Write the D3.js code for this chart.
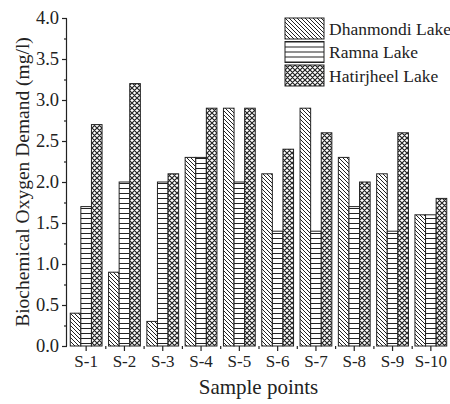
<!DOCTYPE html>
<html>
<head>
<meta charset="utf-8">
<script src="https://cdn.jsdelivr.net/npm/d3@7"></script>
<style>
  body { margin: 0; background: #fff; }
  svg { display: block; font-family: 'Liberation Serif', 'Times New Roman', serif; }
</style>
</head>
<body>
<div id="chart"></div>
<script>
// Data
var samples = ['S-1', 'S-2', 'S-3', 'S-4', 'S-5', 'S-6', 'S-7', 'S-8', 'S-9', 'S-10']
var lakes = ['Dhanmondi Lake', 'Ramna Lake', 'Hatirjheel Lake']
var dhanmondi = [0.4, 0.9, 0.3, 2.3, 2.9, 2.1, 2.9, 2.3, 2.1, 1.6]
var ramna = [1.7, 2.0, 2.0, 2.3, 2.0, 1.4, 1.4, 1.7, 1.4, 1.6]
var hatirjheel = [2.7, 3.2, 2.1, 2.9, 2.9, 2.4, 2.6, 2.0, 2.6, 1.8]
var yTicks = [0, 0.5, 1.0, 1.5, 2.0, 2.5, 3.0, 3.5, 4.0]

var seriesValues = [dhanmondi, ramna, hatirjheel]

// Set up margin/height/width
var margin = { top: 18, left: 67, right: 0, bottom: 58 }
var width = 450 - margin.left - margin.right
var height = 404 - margin.top - margin.bottom

var svg = d3
  .select('#chart')
  .append('svg')
  .attr('width', 450)
  .attr('height', 404)

// Fill patterns
var defs = svg.append('defs')

var diag = defs
  .append('pattern')
  .attr('id', 'pat-0')
  .attr('patternUnits', 'userSpaceOnUse')
  .attr('width', 4)
  .attr('height', 4)
diag.append('rect').attr('width', 4).attr('height', 4).attr('fill', '#fff')
diag
  .append('path')
  .attr('d', 'M0,0L4,4M-1,3L1,5M3,-1L5,1')
  .attr('stroke', '#222')
  .attr('stroke-width', 1)

var horiz = defs
  .append('pattern')
  .attr('id', 'pat-1')
  .attr('patternUnits', 'userSpaceOnUse')
  .attr('width', 6)
  .attr('height', 5)
horiz.append('rect').attr('width', 6).attr('height', 5).attr('fill', '#fff')
horiz
  .append('path')
  .attr('d', 'M0,0.5H6')
  .attr('stroke', '#222')
  .attr('stroke-width', 1)

var cross = defs
  .append('pattern')
  .attr('id', 'pat-2')
  .attr('patternUnits', 'userSpaceOnUse')
  .attr('width', 5)
  .attr('height', 5)
cross.append('rect').attr('width', 5).attr('height', 5).attr('fill', '#fff')
cross
  .append('path')
  .attr('d', 'M0,0L5,5M5,0L0,5M-1,4L1,6M4,-1L6,1M-1,1L1,-1M4,6L6,4')
  .attr('stroke', '#222')
  .attr('stroke-width', 1.2)

var g = svg
  .append('g')
  .attr('transform', `translate(${margin.left}, ${margin.top})`)

// Scales
var xPositionScale = d3
  .scaleBand()
  .domain(samples)
  .range([0, width])
  .paddingInner(0.17)
  .paddingOuter(0.085)

var xSubScale = d3
  .scaleBand()
  .domain([0, 1, 2])
  .range([0, xPositionScale.bandwidth()])

var yPositionScale = d3
  .scaleLinear()
  .domain([0, 4])
  .range([height, 0])

// Bars
samples.forEach(function(s, i) {
  seriesValues.forEach(function(values, k) {
    g.append('rect')
      .attr('x', xPositionScale(s) + xSubScale(k))
      .attr('y', yPositionScale(values[i]))
      .attr('width', xSubScale.bandwidth())
      .attr('height', height - yPositionScale(values[i]))
      .attr('fill', `url(#pat-${k})`)
      .attr('stroke', '#222')
      .attr('stroke-width', 1)
  })
})

// Y axis with minor ticks
var minorY = d3.range(0.25, 4, 0.5)
g.append('g')
  .attr('class', 'axis y-minor')
  .call(d3.axisLeft(yPositionScale).tickValues(minorY).tickSize(3).tickFormat(''))

var yAxis = d3
  .axisLeft(yPositionScale)
  .tickValues(yTicks)
  .tickSize(5)
  .tickFormat(d3.format('.1f'))
g.append('g')
  .attr('class', 'axis y-axis')
  .call(yAxis)

// X axis: major ticks at centres, minor at band edges
var edgeScale = d3
  .scaleLinear()
  .domain([0, samples.length])
  .range([0, width])
g.append('g')
  .attr('class', 'axis x-minor')
  .attr('transform', `translate(0, ${height})`)
  .call(
    d3
      .axisBottom(edgeScale)
      .tickValues(d3.range(1, samples.length))
      .tickSize(3)
      .tickFormat('')
  )

var xAxis = d3.axisBottom(xPositionScale).tickSize(5).tickPadding(4)
g.append('g')
  .attr('class', 'axis x-axis')
  .attr('transform', `translate(0, ${height})`)
  .call(xAxis)

svg.selectAll('.axis path, .axis line').attr('stroke', '#222').attr('stroke-width', 1.2)
svg.selectAll('.x-minor path, .y-minor path').remove()
svg.selectAll('.y-axis path').attr('d', `M-0.5,${height}V0.5`)
svg.selectAll('.x-axis path').attr('d', `M0,${height + 0.5}H${width}`)
svg
  .selectAll('.y-axis text')
  .attr('font-size', 18.5)
  .attr('font-family', 'Liberation Serif')
  .attr('fill', '#222')
svg
  .selectAll('.x-axis text')
  .attr('font-size', 17)
  .attr('font-family', 'Liberation Serif')
  .attr('fill', '#222')

// Axis titles
svg
  .append('text')
  .text('Sample points')
  .attr('x', margin.left + width / 2)
  .attr('y', 394)
  .attr('text-anchor', 'middle')
  .attr('font-size', 21)
  .attr('fill', '#222')

svg
  .append('text')
  .text('Biochemical Oxygen Demand (mg/l)')
  .attr('transform', `translate(29, ${margin.top + height / 2}) rotate(-90)`)
  .attr('text-anchor', 'middle')
  .attr('font-size', 19.5)
  .attr('fill', '#222')

// Legend
var legend = svg
  .append('g')
  .attr('transform', 'translate(285, 18)')

lakes.forEach(function(name, k) {
  var row = legend.append('g').attr('transform', `translate(0, ${k * 23.5})`)
  row
    .append('rect')
    .attr('width', 39)
    .attr('height', 21)
    .attr('fill', `url(#pat-${k})`)
    .attr('stroke', '#222')
    .attr('stroke-width', 1)
  row
    .append('text')
    .text(name)
    .attr('x', 44)
    .attr('y', 16.5)
    .attr('font-size', 17.5)
    .attr('fill', '#222')
})
</script>
</body>
</html>
